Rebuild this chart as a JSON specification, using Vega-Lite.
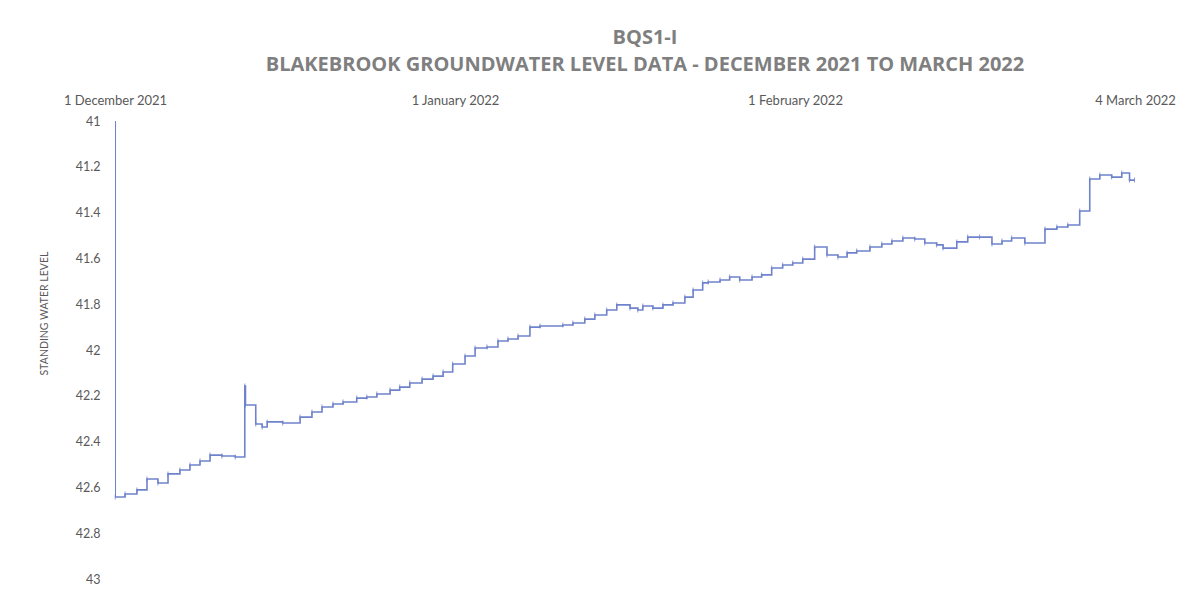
{
  "$schema": "https://vega.github.io/schema/vega-lite/v6.json",
  "width": 1020,
  "height": 458,
  "autosize": {"type": "none"},
  "padding": {"left": 115, "top": 121, "right": 68, "bottom": 25},
  "background": "white",
  "config": {
    "view": {"stroke": null},
    "font": "Lato"
  },
  "title": {
    "text": "BQS1-I",
    "subtitle": "BLAKEBROOK GROUNDWATER LEVEL DATA - DECEMBER 2021 TO MARCH 2022",
    "anchor": "middle",
    "frame": "group",
    "dx": 20,
    "offset": 19,
    "font": "Open Sans",
    "fontSize": 20,
    "fontWeight": "bold",
    "color": "#7f7f7f",
    "subtitleFont": "Open Sans",
    "subtitleFontSize": 20,
    "subtitleFontWeight": "bold",
    "subtitleColor": "#7f7f7f",
    "subtitlePadding": 7
  },
  "data": {
    "values": [
      {"t": "2021-12-01T00:00:00Z", "level": 41.0},
      {"t": "2021-12-01T00:30:00Z", "level": 42.642},
      {"t": "2021-12-01T22:00:00Z", "level": 42.629},
      {"t": "2021-12-03T00:00:00Z", "level": 42.611},
      {"t": "2021-12-03T22:00:00Z", "level": 42.563},
      {"t": "2021-12-04T22:00:00Z", "level": 42.581},
      {"t": "2021-12-05T20:00:00Z", "level": 42.541},
      {"t": "2021-12-06T22:00:00Z", "level": 42.524},
      {"t": "2021-12-07T20:00:00Z", "level": 42.502},
      {"t": "2021-12-08T18:00:00Z", "level": 42.485},
      {"t": "2021-12-09T16:00:00Z", "level": 42.459},
      {"t": "2021-12-10T18:00:00Z", "level": 42.463},
      {"t": "2021-12-11T23:00:00Z", "level": 42.467},
      {"t": "2021-12-12T20:00:00Z", "level": 42.157},
      {"t": "2021-12-12T21:30:00Z", "level": 42.240},
      {"t": "2021-12-13T20:00:00Z", "level": 42.323},
      {"t": "2021-12-14T10:00:00Z", "level": 42.336},
      {"t": "2021-12-14T21:00:00Z", "level": 42.314},
      {"t": "2021-12-16T07:00:00Z", "level": 42.319},
      {"t": "2021-12-17T21:00:00Z", "level": 42.293},
      {"t": "2021-12-18T23:00:00Z", "level": 42.271},
      {"t": "2021-12-19T21:00:00Z", "level": 42.249},
      {"t": "2021-12-20T21:00:00Z", "level": 42.236},
      {"t": "2021-12-21T19:00:00Z", "level": 42.227},
      {"t": "2021-12-23T01:00:00Z", "level": 42.210},
      {"t": "2021-12-23T23:00:00Z", "level": 42.205},
      {"t": "2021-12-24T21:00:00Z", "level": 42.192},
      {"t": "2021-12-26T02:00:00Z", "level": 42.175},
      {"t": "2021-12-26T23:00:00Z", "level": 42.162},
      {"t": "2021-12-27T21:00:00Z", "level": 42.144},
      {"t": "2021-12-29T00:00:00Z", "level": 42.127},
      {"t": "2021-12-30T00:00:00Z", "level": 42.114},
      {"t": "2021-12-30T22:00:00Z", "level": 42.096},
      {"t": "2021-12-31T19:00:00Z", "level": 42.061},
      {"t": "2022-01-01T22:00:00Z", "level": 42.026},
      {"t": "2022-01-02T20:00:00Z", "level": 41.991},
      {"t": "2022-01-03T22:00:00Z", "level": 41.987},
      {"t": "2022-01-04T22:00:00Z", "level": 41.961},
      {"t": "2022-01-05T20:00:00Z", "level": 41.952},
      {"t": "2022-01-06T18:00:00Z", "level": 41.939},
      {"t": "2022-01-07T20:00:00Z", "level": 41.900},
      {"t": "2022-01-08T18:00:00Z", "level": 41.895},
      {"t": "2022-01-10T20:00:00Z", "level": 41.891},
      {"t": "2022-01-11T18:00:00Z", "level": 41.882},
      {"t": "2022-01-12T20:00:00Z", "level": 41.865},
      {"t": "2022-01-13T18:00:00Z", "level": 41.847},
      {"t": "2022-01-14T20:00:00Z", "level": 41.825},
      {"t": "2022-01-15T18:00:00Z", "level": 41.803},
      {"t": "2022-01-16T23:00:00Z", "level": 41.817},
      {"t": "2022-01-17T16:00:00Z", "level": 41.825},
      {"t": "2022-01-18T03:00:00Z", "level": 41.808},
      {"t": "2022-01-19T01:00:00Z", "level": 41.817},
      {"t": "2022-01-19T23:00:00Z", "level": 41.803},
      {"t": "2022-01-20T21:00:00Z", "level": 41.795},
      {"t": "2022-01-21T23:00:00Z", "level": 41.769},
      {"t": "2022-01-22T17:00:00Z", "level": 41.738},
      {"t": "2022-01-23T14:00:00Z", "level": 41.707},
      {"t": "2022-01-24T02:00:00Z", "level": 41.703},
      {"t": "2022-01-25T04:00:00Z", "level": 41.694},
      {"t": "2022-01-26T01:00:00Z", "level": 41.681},
      {"t": "2022-01-26T23:00:00Z", "level": 41.694},
      {"t": "2022-01-28T02:00:00Z", "level": 41.681},
      {"t": "2022-01-28T23:00:00Z", "level": 41.672},
      {"t": "2022-01-29T21:00:00Z", "level": 41.642},
      {"t": "2022-01-30T21:00:00Z", "level": 41.629},
      {"t": "2022-01-31T19:00:00Z", "level": 41.620},
      {"t": "2022-02-01T17:00:00Z", "level": 41.603},
      {"t": "2022-02-02T19:00:00Z", "level": 41.550},
      {"t": "2022-02-03T22:00:00Z", "level": 41.585},
      {"t": "2022-02-04T22:00:00Z", "level": 41.594},
      {"t": "2022-02-05T18:00:00Z", "level": 41.576},
      {"t": "2022-02-06T15:00:00Z", "level": 41.568},
      {"t": "2022-02-07T20:00:00Z", "level": 41.550},
      {"t": "2022-02-08T22:00:00Z", "level": 41.537},
      {"t": "2022-02-09T20:00:00Z", "level": 41.524},
      {"t": "2022-02-10T20:00:00Z", "level": 41.511},
      {"t": "2022-02-11T22:00:00Z", "level": 41.515},
      {"t": "2022-02-12T20:00:00Z", "level": 41.533},
      {"t": "2022-02-13T22:00:00Z", "level": 41.541},
      {"t": "2022-02-14T12:00:00Z", "level": 41.555},
      {"t": "2022-02-15T18:00:00Z", "level": 41.528},
      {"t": "2022-02-16T18:00:00Z", "level": 41.507},
      {"t": "2022-02-17T20:00:00Z", "level": 41.507},
      {"t": "2022-02-18T23:00:00Z", "level": 41.537},
      {"t": "2022-02-19T21:00:00Z", "level": 41.524},
      {"t": "2022-02-20T18:00:00Z", "level": 41.511},
      {"t": "2022-02-21T23:00:00Z", "level": 41.533},
      {"t": "2022-02-23T19:00:00Z", "level": 41.472},
      {"t": "2022-02-24T21:00:00Z", "level": 41.463},
      {"t": "2022-02-25T21:00:00Z", "level": 41.454},
      {"t": "2022-02-26T23:00:00Z", "level": 41.393},
      {"t": "2022-02-27T21:00:00Z", "level": 41.253},
      {"t": "2022-02-28T19:00:00Z", "level": 41.236},
      {"t": "2022-03-01T21:00:00Z", "level": 41.245},
      {"t": "2022-03-02T19:00:00Z", "level": 41.227},
      {"t": "2022-03-03T12:00:00Z", "level": 41.258},
      {"t": "2022-03-03T23:00:00Z", "level": 41.258}
    ]
  },
  "encoding": {
    "x": {
      "field": "t",
      "type": "temporal",
      "scale": {
        "type": "utc",
        "domain": [
          {"year": 2021, "month": 12, "date": 1, "utc": true},
          {"year": 2022, "month": 3, "date": 4, "utc": true}
        ]
      },
      "axis": {
        "orient": "top",
        "title": null,
        "values": [
          {"year": 2021, "month": 12, "date": 1, "utc": true},
          {"year": 2022, "month": 1, "date": 1, "utc": true},
          {"year": 2022, "month": 2, "date": 1, "utc": true},
          {"year": 2022, "month": 3, "date": 4, "utc": true}
        ],
        "format": "%-d %B %Y",
        "domain": false,
        "ticks": false,
        "grid": false,
        "labelFlush": false,
        "labelOverlap": false,
        "labelPadding": 14,
        "labelFont": "Lato",
        "labelFontSize": 13,
        "labelColor": "#595959"
      }
    },
    "y": {
      "field": "level",
      "type": "quantitative",
      "scale": {"domain": [41, 43], "reverse": true, "nice": false, "zero": false},
      "axis": {
        "title": "STANDING WATER LEVEL",
        "values": [41, 41.2, 41.4, 41.6, 41.8, 42, 42.2, 42.4, 42.6, 42.8, 43],
        "format": "~g",
        "domain": false,
        "ticks": false,
        "grid": false,
        "labelPadding": 15,
        "labelFont": "Lato",
        "labelFontSize": 12.5,
        "labelColor": "#595959",
        "titleFont": "Lato",
        "titleFontSize": 10.5,
        "titleFontWeight": "normal",
        "titleColor": "#595959",
        "titleX": -71,
        "titleY": 192,
        "titleBaseline": "middle"
      }
    }
  },
  "layer": [
    {
      "mark": {"type": "line", "interpolate": "step-after", "color": "#6f82cc", "strokeWidth": 1.6, "clip": true}
    },
    {
      "transform": [{"filter": "datum.level > 41"}],
      "mark": {"type": "tick", "orient": "vertical", "size": 5, "thickness": 1, "color": "#6f82cc", "opacity": 0.8}
    }
  ]
}
